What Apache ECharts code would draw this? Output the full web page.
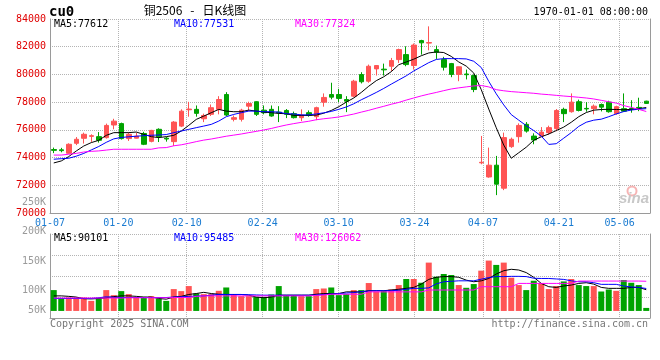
<!DOCTYPE html>
<html><head><meta charset="utf-8">
<script src="https://cdn.jsdelivr.net/npm/echarts@6/dist/echarts.min.js"></script>
<style>html,body{margin:0;padding:0;background:#fff}#c{width:660px;height:360px}</style>
</head><body><div id="c"></div>
<script>
const dates = ['01-07','01-08','01-09','01-10','01-13','01-14','01-15','01-16','01-17','01-20','01-21','01-22','01-23','01-24','01-27','02-05','02-06','02-07','02-10','02-11','02-12','02-13','02-14','02-17','02-18','02-19','02-20','02-21','02-24','02-25','02-26','02-27','02-28','03-03','03-04','03-05','03-06','03-07','03-10','03-11','03-12','03-13','03-14','03-17','03-18','03-19','03-20','03-21','03-24','03-25','03-26','03-27','03-28','03-31','04-01','04-02','04-03','04-07','04-08','04-09','04-10','04-11','04-14','04-15','04-16','04-17','04-18','04-21','04-22','04-23','04-24','04-25','04-28','04-29','04-30','05-06','05-07','05-08','05-09','05-12'];
const openP = [74580,74560,74310,75030,75390,75530,75510,75440,76350,76450,75370,75400,75740,75170,76040,75400,75150,76270,77450,77480,76800,77120,77480,78550,76760,76760,77710,78030,77420,77480,77280,77400,77170,76880,77240,76950,78000,78550,78550,78190,78430,79990,79510,80400,80380,80590,81070,81430,80640,82440,82260,81790,81070,80780,80000,80030,79920,73620,72600,73450,71790,74790,75510,76400,75550,75550,75800,76090,77480,77310,78030,77550,77530,77830,78000,77170,77530,77540,77620,78070];
const closeP = [74520,74500,74960,75320,75680,75580,75250,76320,76630,75370,75680,75550,74960,75960,75500,75340,76560,77350,77500,77190,77040,77600,78190,77070,76880,77420,77900,77120,77240,77000,77230,77120,76880,77060,77060,77600,78340,78360,78270,78070,79510,79470,80590,80640,80330,81000,81790,80710,82120,82280,82300,81600,80520,80000,80550,79980,78910,73660,73450,72080,75440,75320,76320,75910,75270,75840,76160,77400,77170,78000,77400,77510,77710,77640,77310,77670,77350,77500,77580,77910];
const lowP = [74320,74380,74280,74900,75010,75130,75080,75370,76040,75300,75200,75380,74900,75100,75120,75150,74840,76200,76950,76950,76560,77000,77120,77000,76610,76600,77350,77000,77120,76950,76560,76850,76820,76630,76950,76700,77670,78200,78000,77280,78350,79350,79400,79920,79920,80230,80830,80590,80350,81430,81740,81120,80280,79800,79510,79640,78720,73520,72550,71290,71650,74700,75080,75800,74960,75500,75650,75900,76560,77240,77330,77310,77120,77330,77240,77090,77300,77240,77350,77880];
const highP = [74720,74700,75030,75480,75800,75680,75840,76450,76800,76520,75820,75800,75860,76000,76110,75480,76630,77480,78020,77760,77170,77830,78430,78720,77040,77520,78030,78060,77760,77760,77710,77500,77320,77480,77400,77670,78630,79400,78960,78430,79610,80160,80710,80660,80780,81190,81860,82030,82230,82500,83470,82080,81270,80830,80560,80350,80000,75560,74720,74120,75800,75440,76470,76560,75750,76200,76300,77500,77600,78630,78180,78000,77830,77900,78100,77740,78630,78140,78320,78100];
const volume = [88600,52600,56900,56900,56900,42800,52600,88600,67200,84300,71500,56900,59900,62900,52600,42800,92900,84300,105700,74000,71500,71500,85600,99700,71500,62900,62900,59900,59900,69800,105700,67200,67200,62900,62900,92900,95400,99700,67200,71500,88600,88600,118600,82600,85600,91200,110000,135700,135700,119800,205400,145500,157100,152800,110000,98400,114300,171200,214000,195600,205400,141200,110000,88600,128400,118600,92900,105700,125400,135700,110000,105700,105700,82600,91200,85600,131400,119800,110000,12800];
const ma5 = [73612,73755,74072,74475,74835,75079,75245,75604,75798,75800,75800,75842,75676,75510,75440,75510,75604,75914,76324,76755,76993,77237,77475,77353,77309,77309,77425,77353,77280,77237,77187,77165,77043,77043,77043,77065,77200,77400,77670,78000,78300,78700,79150,79550,79830,80200,80700,80900,81100,81350,81550,81620,81580,81300,80900,80600,80100,78900,77500,76150,74900,73950,74350,74750,75250,75500,75700,75950,76200,76550,76950,77250,77420,77470,77480,77470,77450,77480,77530,77612];
const ma10 = [73880,73920,73950,74100,74300,74550,74800,75100,75350,75450,75500,75540,75580,75610,75630,75660,75800,75914,76036,76158,76273,76396,76633,76950,77115,77237,77353,77353,77309,77309,77280,77165,77150,77080,77080,77150,77230,77330,77480,77650,77880,78170,78430,78700,78990,79300,79600,79900,80250,80550,80850,81080,81140,81140,81140,81120,80950,80500,79500,78600,77800,77100,76700,76300,75950,75550,74950,75000,75400,75800,76250,76550,76700,76770,76950,77150,77320,77430,77490,77531];
const ma30 = [74180,74180,74240,74300,74400,74450,74480,74540,74600,74600,74600,74600,74600,74600,74700,74720,74850,74920,75030,75150,75260,75340,75440,75540,75620,75700,75800,75890,75990,76100,76230,76350,76450,76540,76620,76730,76800,76860,76930,77030,77140,77280,77410,77560,77700,77850,77980,78150,78300,78450,78580,78700,78830,78950,79030,79100,79170,79200,79100,78900,78820,78760,78720,78680,78640,78580,78540,78490,78440,78400,78350,78300,78230,78130,78030,77930,77750,77620,77480,77324];
const vma5 = [64000,64000,62000,59000,52000,51000,53000,56000,61000,64000,64000,62000,59000,59000,53000,50000,59000,62000,70000,74000,79000,74000,71000,70000,70000,70000,67000,59000,56000,59000,67000,67000,67000,67000,67000,71000,74000,74000,74000,81000,81000,81000,86000,86000,86000,89000,92000,96000,100000,114000,134000,143000,146000,146000,143000,131000,124000,128000,138000,157000,171000,177000,174000,163000,143000,117000,103000,100000,106000,110000,117000,120000,114000,100000,96000,96000,96000,100000,100000,90101];
const vma10 = [53000,53000,53000,53000,53000,53000,56000,60000,58000,57000,57000,57000,57000,57000,57000,57000,59000,60000,62000,63000,64000,67000,70000,70000,70000,70000,69000,68000,67000,67000,67000,67000,67000,67000,67000,68000,70000,72000,74000,76000,78000,82000,85000,86000,86000,86000,88000,92000,96000,96000,98000,115000,124000,126000,128000,128000,128000,135000,142000,146000,146000,147000,147000,146000,139000,138000,138000,136000,134000,128000,124000,124000,120000,113000,113000,113000,106000,102000,100000,95485];
const vma30 = [55000,55000,55000,55000,55000,55000,55000,55000,55000,55000,56000,56000,56000,56000,56000,56000,57000,57000,57000,62000,64000,64000,64000,64000,64000,64000,64000,64000,64000,64000,64000,64000,64000,64000,64000,66000,68000,71000,71000,71000,71000,71000,81000,81000,81000,81000,81000,81000,81000,81000,89000,89000,89000,89000,89000,89000,89000,103000,103000,103000,103000,103000,117000,117000,117000,117000,117000,117000,117000,117000,127000,127000,127000,127000,127000,127000,127000,127000,127000,126062];
const labelDates = ['01-07','01-20','02-10','02-24','03-10','03-24','04-07','04-21','05-06'];
const volTicks = [50000,100000,150000,200000,250000];

const MONO = "'DejaVu Sans Mono', monospace";
const UP = '#ff5454', DOWN = '#00a300';
const GRIDC = '#b4b4b4', AXC = '#9a9a9a';
const labelSet = new Set(labelDates);
const showIdx = (i, v) => labelSet.has(v);
const dotted = {color: GRIDC, type: [1, 1], width: 1};

const chart = echarts.init(document.getElementById('c'), null, {renderer: 'canvas'});
const candleData = dates.map((d, i) => [openP[i], closeP[i], lowP[i], highP[i]]);

function txt(x, y, text, fill, font, align) {
  return {type: 'text', x: x, y: y, silent: true, z: 100,
    style: {text: text, fill: fill, font: font, textAlign: align || 'left', textVerticalAlign: 'middle'}};
}

chart.setOption({
  animation: false,
  backgroundColor: '#fff',
  grid: [
    {left: 50, top: 19, width: 600, height: 194},
    {left: 50, top: 234, width: 600, height: 84},
    {left: 50, top: 202, width: 600, height: 118}
  ],
  xAxis: [
    {gridIndex: 0, type: 'category', data: dates, boundaryGap: true, position: 'bottom',
      axisLine: {show: false}, axisTick: {show: false}, axisLabel: {show: false}, splitLine: {show: false}},
    {gridIndex: 0, type: 'category', data: dates, boundaryGap: false, position: 'bottom',
      axisLine: {show: true, lineStyle: {color: AXC}}, axisTick: {show: false},
      axisLabel: {interval: showIdx, color: '#1a7bd1', fontFamily: MONO, fontSize: 10, margin: 5},
      splitLine: {show: true, interval: showIdx, lineStyle: dotted}},
    {gridIndex: 1, type: 'category', data: dates, boundaryGap: true, position: 'bottom',
      axisLine: {show: false}, axisTick: {show: false}, axisLabel: {show: false}, splitLine: {show: false}},
    {gridIndex: 1, type: 'category', data: dates, boundaryGap: false, position: 'bottom',
      axisLine: {show: true, lineStyle: {color: AXC}}, axisTick: {show: false}, axisLabel: {show: false},
      splitLine: {show: true, interval: showIdx, lineStyle: dotted}},
    {gridIndex: 2, type: 'category', data: dates, show: false}
  ],
  yAxis: [
    {gridIndex: 0, type: 'value', min: 70000, max: 84000, interval: 2000, position: 'left',
      axisLine: {show: true, lineStyle: {color: AXC}}, axisTick: {show: false},
      axisLabel: {color: '#e00000', fontFamily: MONO, fontSize: 10, margin: 4, formatter: v => String(v)},
      splitLine: {show: true, lineStyle: dotted}},
    {gridIndex: 0, type: 'value', min: 70000, max: 84000, position: 'right',
      axisLine: {show: true, lineStyle: {color: AXC}}, axisTick: {show: false}, axisLabel: {show: false}, splitLine: {show: false}},
    {gridIndex: 1, type: 'value', min: -30000, max: 327000, show: false, splitLine: {show: false}},
    {gridIndex: 1, type: 'value', min: 0, max: 4, interval: 1, position: 'left',
      axisLine: {show: true, lineStyle: {color: AXC}}, axisTick: {show: false}, axisLabel: {show: false},
      splitLine: {show: true, lineStyle: dotted}},
    {gridIndex: 1, type: 'value', min: 0, max: 4, position: 'right',
      axisLine: {show: true, lineStyle: {color: AXC}}, axisTick: {show: false}, axisLabel: {show: false}, splitLine: {show: false}},
    {gridIndex: 2, type: 'value', min: volTicks[0], max: volTicks[volTicks.length - 1], interval: 50000, position: 'left',
      axisLine: {show: false}, axisTick: {show: false}, splitLine: {show: false},
      axisLabel: {color: '#9a9a9a', fontFamily: MONO, fontSize: 10, margin: 4,
        formatter: v => v === volTicks[0] ? '{lift|' + (v / 1000) + 'K}' : (v / 1000) + 'K',
        rich: {lift: {padding: [0, 0, 19, 0], color: '#9a9a9a', fontFamily: MONO, fontSize: 10}}}}
  ],
  series: [
    {type: 'candlestick', xAxisIndex: 0, yAxisIndex: 0, data: candleData, barWidth: 5, z: 2,
      itemStyle: {color: UP, color0: DOWN, borderColor: UP, borderColor0: DOWN, borderWidth: 1}},
    {type: 'line', xAxisIndex: 0, yAxisIndex: 0, data: ma5, symbol: 'none', z: 5, lineStyle: {color: '#000', width: 1}},
    {type: 'line', xAxisIndex: 0, yAxisIndex: 0, data: ma10, symbol: 'none', z: 5, lineStyle: {color: '#0000ff', width: 1}},
    {type: 'line', xAxisIndex: 0, yAxisIndex: 0, data: ma30, symbol: 'none', z: 5, lineStyle: {color: '#ff00ff', width: 1}},
    {type: 'bar', xAxisIndex: 2, yAxisIndex: 2, data: volume, barWidth: 6, z: 2,
      itemStyle: {color: p => closeP[p.dataIndex] > openP[p.dataIndex] ? UP : DOWN}},
    {type: 'line', xAxisIndex: 2, yAxisIndex: 2, data: vma5, symbol: 'none', z: 5, lineStyle: {color: '#000', width: 1}},
    {type: 'line', xAxisIndex: 2, yAxisIndex: 2, data: vma10, symbol: 'none', z: 5, lineStyle: {color: '#0000ff', width: 1}},
    {type: 'line', xAxisIndex: 2, yAxisIndex: 2, data: vma30, symbol: 'none', z: 5, lineStyle: {color: '#ff00ff', width: 1}}
  ],
  graphic: [
    txt(49, 12, 'cu0', '#000', 'bold 14px ' + MONO),
    txt(195, 10, '铜2506   -   日K线图', '#000', "12px 'Noto Sans CJK SC', sans-serif", 'center'),
    txt(648, 12, '1970-01-01 08:00:00', '#000', '10px ' + MONO, 'right'),
    txt(54, 24, 'MA5:' + ma5[ma5.length - 1], '#000', '10px ' + MONO),
    txt(174, 24, 'MA10:' + ma10[ma10.length - 1], '#0000ff', '10px ' + MONO),
    txt(295, 24, 'MA30:' + ma30[ma30.length - 1], '#ff00ff', '10px ' + MONO),
    txt(54, 238, 'MA5:' + vma5[vma5.length - 1], '#000', '10px ' + MONO),
    txt(174, 238, 'MA10:' + vma10[vma10.length - 1], '#0000ff', '10px ' + MONO),
    txt(295, 238, 'MA30:' + vma30[vma30.length - 1], '#ff00ff', '10px ' + MONO),
    txt(50, 324, 'Copyright 2025 SINA.COM', '#777', '10px ' + MONO),
    txt(648, 324, 'http://finance.sina.com.cn', '#777', '10px ' + MONO, 'right'),
    {type: 'circle', silent: true, z: 1, shape: {cx: 632, cy: 191, r: 4.5}, style: {fill: 'none', stroke: '#f6b4b4', lineWidth: 2}},
    txt(619, 199, 'sina', '#c8c8c8', "italic bold 15px 'Liberation Sans', sans-serif")
  ]
});
</script>
</body></html>
